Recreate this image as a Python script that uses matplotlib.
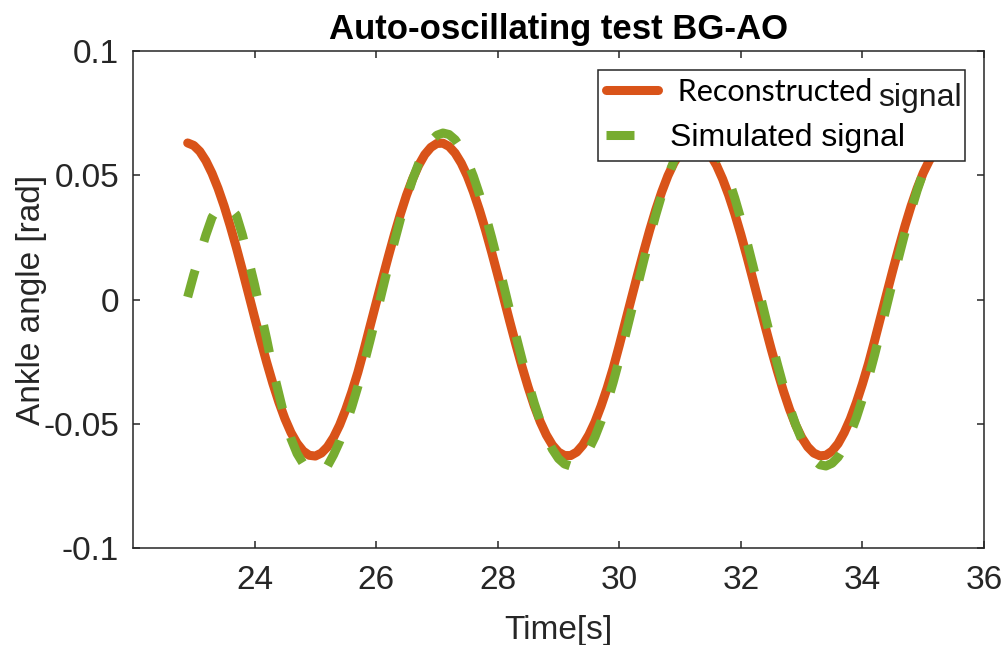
import matplotlib
matplotlib.use("Agg")
import matplotlib.pyplot as plt

plt.rcParams['font.family'] = ['Liberation Sans', 'DejaVu Sans']
plt.rcParams['axes.unicode_minus'] = False

# time grid (0.1 s steps)
time_s = [22.9, 23.0, 23.1, 23.2, 23.3, 23.4, 23.5, 23.6, 23.7, 23.8,
          23.9, 24.0, 24.1, 24.2, 24.3, 24.4, 24.5, 24.6, 24.7, 24.8,
          24.9, 25.0, 25.1, 25.2, 25.3, 25.4, 25.5, 25.6, 25.7, 25.8,
          25.9, 26.0, 26.1, 26.2, 26.3, 26.4, 26.5, 26.6, 26.7, 26.8,
          26.9, 27.0, 27.1, 27.2, 27.3, 27.4, 27.5, 27.6, 27.7, 27.8,
          27.9, 28.0, 28.1, 28.2, 28.3, 28.4, 28.5, 28.6, 28.7, 28.8,
          28.9, 29.0, 29.1, 29.2, 29.3, 29.4, 29.5, 29.6, 29.7, 29.8,
          29.9, 30.0, 30.1, 30.2, 30.3, 30.4, 30.5, 30.6, 30.7, 30.8,
          30.9, 31.0, 31.1, 31.2, 31.3, 31.4, 31.5, 31.6, 31.7, 31.8,
          31.9, 32.0, 32.1, 32.2, 32.3, 32.4, 32.5, 32.6, 32.7, 32.8,
          32.9, 33.0, 33.1, 33.2, 33.3, 33.4, 33.5, 33.6, 33.7, 33.8,
          33.9, 34.0, 34.1, 34.2, 34.3, 34.4, 34.5, 34.6, 34.7, 34.8,
          34.9, 35.0, 35.1, 35.2, 35.3, 35.4, 35.5]

reconstructed = [0.0630, 0.0620, 0.0596, 0.0558, 0.0508, 0.0447, 0.0376, 0.0296, 0.0210, 0.0118,
                 0.0024, -0.0071, -0.0164, -0.0253, -0.0337, -0.0413, -0.0480, -0.0536, -0.0579, -0.0610,
                 -0.0627, -0.0630, -0.0618, -0.0593, -0.0555, -0.0505, -0.0443, -0.0372, -0.0293, -0.0203,
                 -0.0108, -0.0014, 0.0080, 0.0172, 0.0261, 0.0344, 0.0420, 0.0485, 0.0540, 0.0583,
                 0.0612, 0.0628, 0.0629, 0.0616, 0.0589, 0.0549, 0.0497, 0.0433, 0.0360, 0.0279,
                 0.0191, 0.0099, 0.0005, -0.0090, -0.0182, -0.0270, -0.0352, -0.0427, -0.0492, -0.0545,
                 -0.0586, -0.0614, -0.0628, -0.0628, -0.0614, -0.0586, -0.0545, -0.0493, -0.0429, -0.0357,
                 -0.0276, -0.0185, -0.0090, 0.0005, 0.0099, 0.0191, 0.0279, 0.0361, 0.0434, 0.0498,
                 0.0550, 0.0590, 0.0616, 0.0629, 0.0627, 0.0611, 0.0582, 0.0540, 0.0485, 0.0420,
                 0.0345, 0.0262, 0.0173, 0.0080, -0.0014, -0.0108, -0.0200, -0.0287, -0.0368, -0.0441,
                 -0.0504, -0.0555, -0.0593, -0.0618, -0.0629, -0.0627, -0.0610, -0.0580, -0.0536, -0.0481,
                 -0.0415, -0.0340, -0.0258, -0.0166, -0.0071, 0.0024, 0.0118, 0.0209, 0.0296, 0.0376,
                 0.0447, 0.0509, 0.0559, 0.0596, 0.0620, 0.0630, 0.0625]

simulated = [0.0010, 0.0100, 0.0180, 0.0260, 0.0330, 0.0370, 0.0380, 0.0370, 0.0340, 0.0260,
             0.0160, 0.0060, -0.0050, -0.0160, -0.0280, -0.0380, -0.0480, -0.0560, -0.0620, -0.0660,
             -0.0680, -0.0690, -0.0690, -0.0670, -0.0625, -0.0571, -0.0505, -0.0432, -0.0350, -0.0260,
             -0.0165, -0.0066, 0.0035, 0.0135, 0.0232, 0.0324, 0.0408, 0.0483, 0.0547, 0.0599,
             0.0637, 0.0661, 0.0670, 0.0664, 0.0643, 0.0607, 0.0558, 0.0496, 0.0423, 0.0340,
             0.0250, 0.0154, 0.0055, -0.0046, -0.0145, -0.0241, -0.0332, -0.0416, -0.0490, -0.0553,
             -0.0603, -0.0640, -0.0662, -0.0670, -0.0662, -0.0640, -0.0603, -0.0553, -0.0490, -0.0416,
             -0.0333, -0.0242, -0.0145, -0.0046, 0.0055, 0.0154, 0.0250, 0.0340, 0.0423, 0.0496,
             0.0558, 0.0607, 0.0643, 0.0664, 0.0670, 0.0661, 0.0637, 0.0599, 0.0547, 0.0483,
             0.0408, 0.0324, 0.0232, 0.0135, 0.0035, -0.0065, -0.0164, -0.0259, -0.0349, -0.0431,
             -0.0503, -0.0563, -0.0611, -0.0645, -0.0665, -0.0670, -0.0659, -0.0634, -0.0594, -0.0541,
             -0.0476, -0.0400, -0.0315, -0.0223, -0.0125, -0.0025, 0.0075, 0.0174, 0.0269, 0.0358,
             0.0439, 0.0510, 0.0569, 0.0615, 0.0648, 0.0666, 0.0669]

x_ticks = [24, 26, 28, 30, 32, 34, 36]
y_ticks = [-0.1, -0.05, 0, 0.05, 0.1]
y_tick_labels = ['-0.1', '-0.05', '0', '0.05', '0.1']

orange = '#D95319'
green = '#77AC30'
axis_col = '#262626'

fig = plt.figure(figsize=(10.05, 6.45), dpi=100)
ax = fig.add_axes([0.1323, 0.1504, 0.8468, 0.7705])

ax.plot(time_s, reconstructed, color=orange, lw=6.5, solid_capstyle='round',
        solid_joinstyle='round', label=' Reconstructed')
ax.plot(time_s, simulated, color=green, lw=6.5, dashes=(3.1, 3.3),
        label='Simulated signal')

ax.set_xlim(22, 36)
ax.set_ylim(-0.1, 0.1)
ax.set_xticks(x_ticks)
ax.set_xticklabels([str(v) for v in x_ticks])
ax.set_yticks(y_ticks)
ax.set_yticklabels(y_tick_labels)

for s in ax.spines.values():
    s.set_color(axis_col)
    s.set_linewidth(1.1)
ax.tick_params(direction='in', length=5, width=1.1, color=axis_col,
               labelsize=24, labelcolor=axis_col, top=True, right=True)
ax.tick_params(axis='x', pad=12)
ax.tick_params(axis='y', pad=10)

ax.set_xlabel('Time[s]', fontsize=24, color=axis_col, labelpad=14)
ax.set_ylabel('Ankle angle [rad]', fontsize=24, color=axis_col, labelpad=-3)
ax.set_title('Auto-oscillating test BG-AO', fontsize=25, fontweight='bold',
             color='black', pad=9)

leg = ax.legend(loc='upper left', bbox_to_anchor=(0.546, 0.787, 0.432, 0.175),
                mode='expand', fontsize=23, frameon=True, fancybox=False,
                borderpad=0.25, labelspacing=0.55, handlelength=1.65,
                handletextpad=0.35, borderaxespad=0)
leg.get_frame().set_edgecolor(axis_col)
leg.get_frame().set_linewidth(1.1)
leg.get_frame().set_alpha(1)
leg.get_texts()[0].set_fontfamily(['Lato', 'DejaVu Sans'])
leg.get_texts()[0].set_fontsize(22)
ax.text(0.8754, 0.889, 'signal', transform=ax.transAxes, fontsize=23,
        color='#1a1a1a', va='baseline', ha='left', zorder=10)

fig.savefig('out.png', dpi=100)
